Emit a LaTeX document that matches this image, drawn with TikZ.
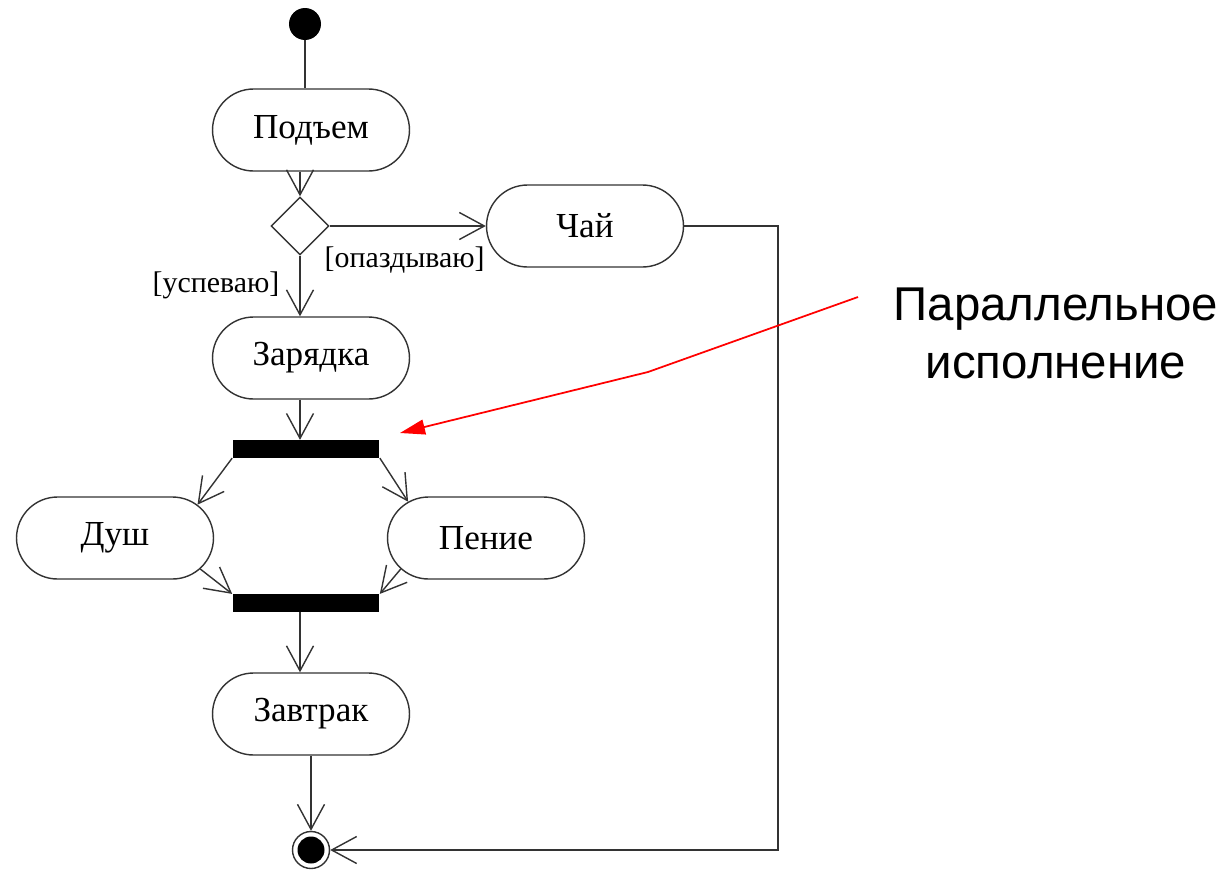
\documentclass[tikz,border=0pt]{standalone}
\usepackage{fontspec}
\setmainfont{Liberation Serif}
\newfontfamily\notefont{Liberation Sans}
\usetikzlibrary{shapes.geometric, shapes.misc, arrows.meta, calc}

\begin{document}
\begin{tikzpicture}[x=0.02cm, y=-0.02cm, >={Straight Barb[length=5mm,width=5.4mm]},
  flow/.style={draw=black!80, line width=0.8pt},
  action/.style={rounded rectangle, draw=black!80, line width=0.8pt, minimum width=3.94cm,
    minimum height=1.64cm, inner sep=0pt, font=\fontsize{20}{24}\selectfont},
  syncbar/.style={fill=black, minimum width=2.94cm, minimum height=0.35cm, inner sep=0pt},
  guard/.style={font=\fontsize{17}{20}\selectfont}]
\useasboundingbox (0,0) rectangle (1230,869);
% start and end
\node[circle,fill,minimum size=0.64cm,inner sep=0pt] (start) at (305,24) {};
\node[circle,draw=black!80,line width=0.8pt,minimum size=0.74cm,inner sep=0pt] (finish) at (311,850) {};
\fill (finish) circle (2.7mm);
% actions
\node[action] (wake)  at (311,130) {Подъем};
\node[diamond,draw=black!80,line width=0.8pt,minimum size=1.16cm,inner sep=0pt] (dec) at (300,226) {};
\node[action] (tea)   at (585,226) {Чай};
\node[action] (gym)   at (311,358) {Зарядка};
\node[syncbar] (fork) at (306,449) {};
\node[action] (shower) at (115,538) {Душ};
\node[action] (sing)  at (486,538) {Пение};
\node[syncbar] (join) at (306,603) {};
\node[action] (meal)  at (311,714) {Завтрак};
% flows
\draw[flow] (start) -- (start |- wake.north);
\draw[flow,->] (dec.north |- wake.south) -- (dec.north);
\draw[flow,->] (dec.east) -- (tea.west) node[pos=0.48,below,guard,yshift=-0.28cm] {[опаздываю]};
\draw[flow,->] (dec.south) -- (dec.south |- gym.north);
\node[guard] (late) at (216,285) {[успеваю]};
\draw[flow,->] (gym.south -| dec.south) -- (fork.north -| dec.south);
\draw[flow,->] (fork.south west) -- (shower.22);
\draw[flow,->] (fork.south east) -- (sing.155);
\draw[flow,->] (shower.-20) -- (join.north west);
\draw[flow,->] (sing.200) -- (join.north east);
\draw[flow,->] (join.south -| dec.south) -- (meal.north -| dec.south);
\draw[flow,->] (meal.south) -- (finish.north);
\draw[flow,->] (tea.east) -- (778,226) -- (778,850) -- (finish.east);
% note
\node[font=\notefont\fontsize{27}{33}\selectfont, align=center] (note) at (1056,333) {Параллельное\\исполнение};
\coordinate (hint) at (400,433);
\draw[red, line width=1pt, -{Triangle[length=5mm,width=3mm]}] (858,297) -- (648,372) -- (hint);
\end{tikzpicture}
\end{document}
